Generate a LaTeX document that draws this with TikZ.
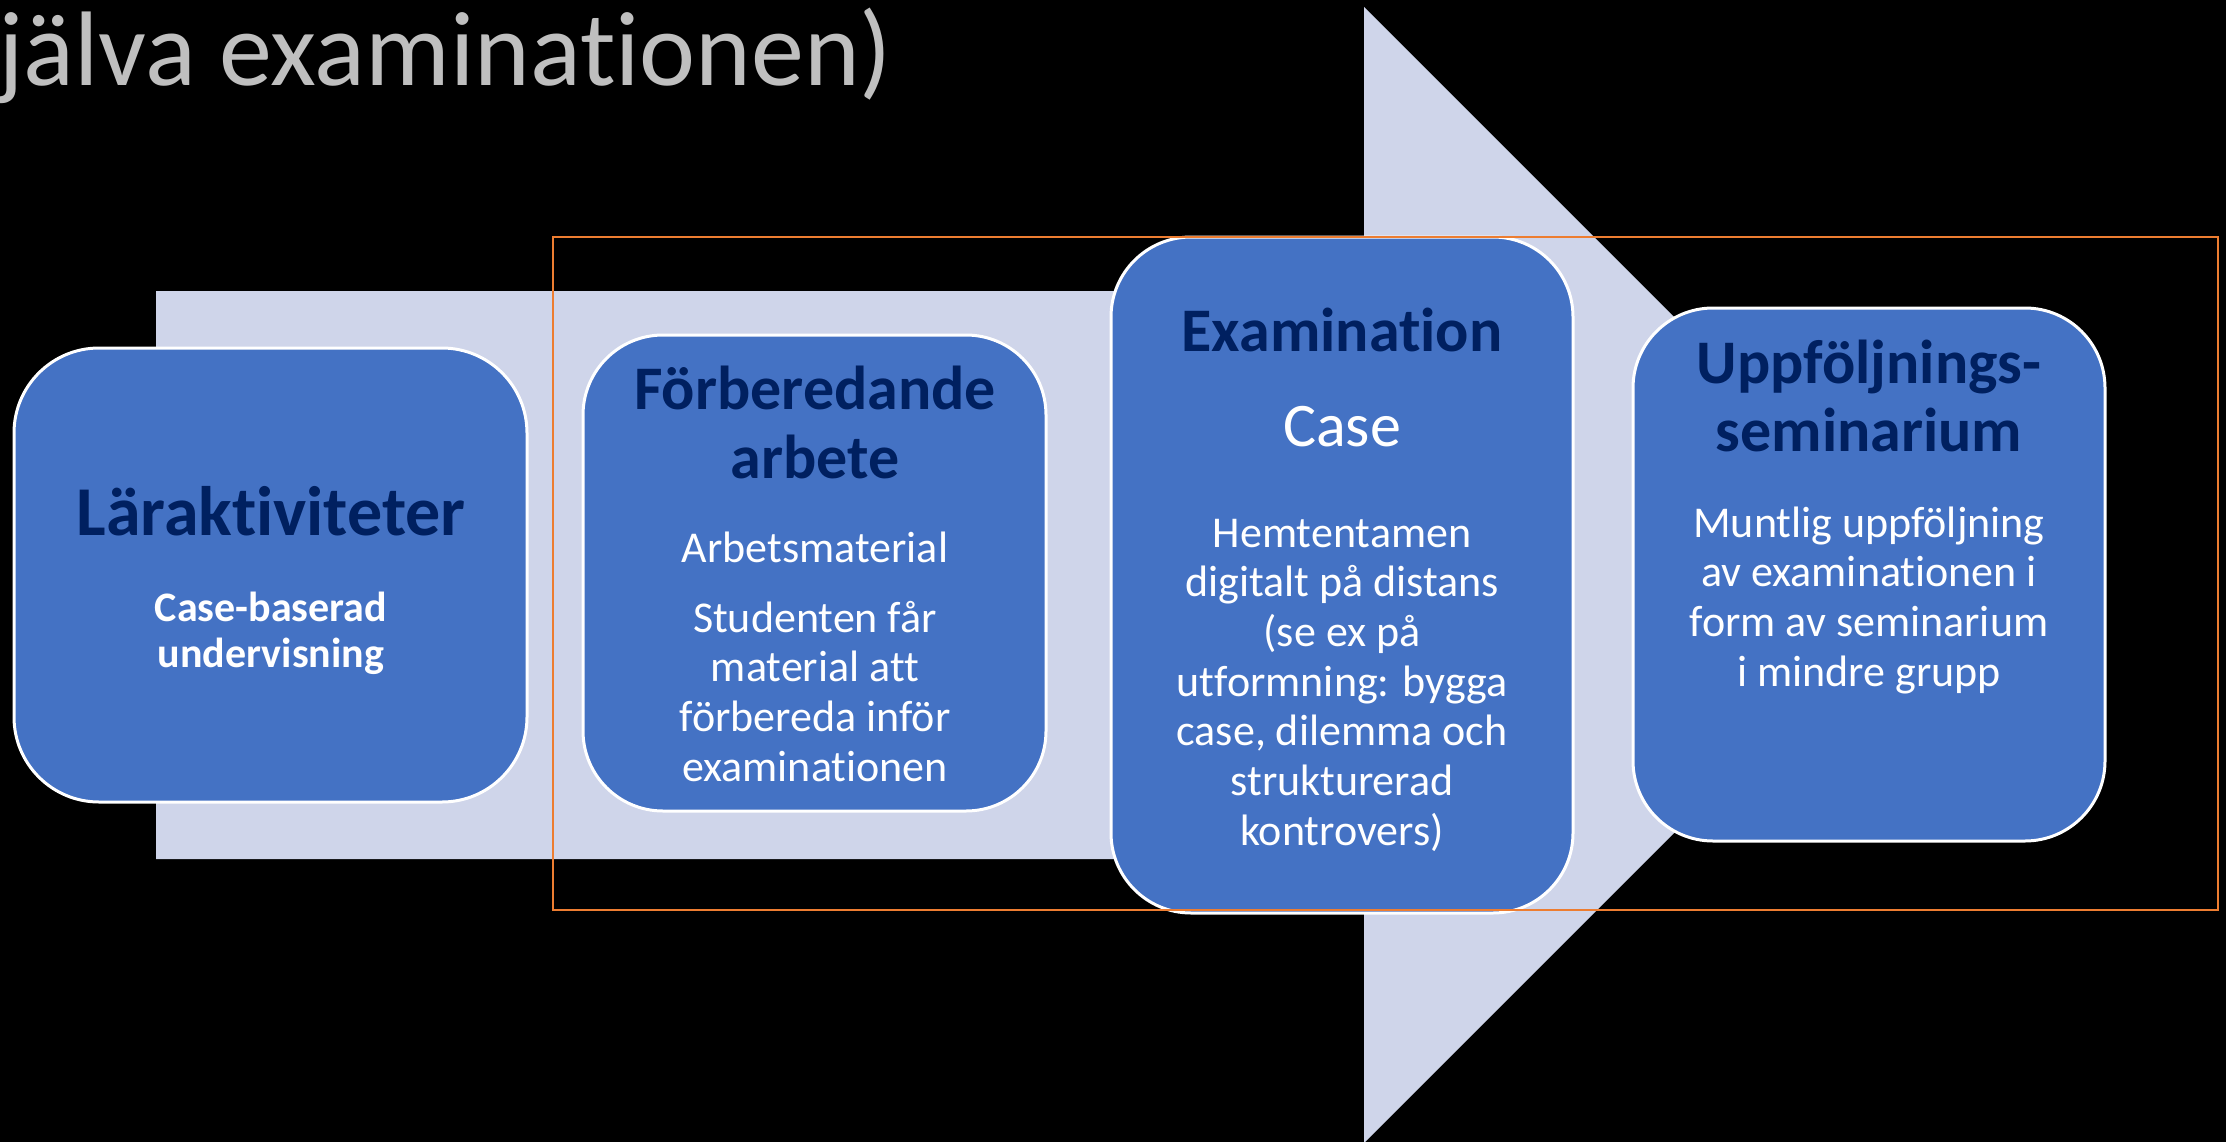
\documentclass[tikz,border=0pt]{standalone}
\usepackage{fontspec}
\setmainfont{Carlito}[Ligatures={CommonOff,RequiredOff,ContextualOff}, Contextuals=AlternateOff]
\definecolor{boxblue}{HTML}{4472C4}
\definecolor{navy}{HTML}{002060}
\definecolor{arrowfill}{HTML}{CFD5EA}
\definecolor{framecol}{HTML}{ED7D31}
\definecolor{titlegrey}{HTML}{BFBFBF}
\begin{document}
\begin{tikzpicture}[x=1pt,y=-1pt,
  pbox/.style={draw=white, line width=3pt, fill=boxblue, rounded corners=80pt, inner sep=0pt},
  head/.style={font=\fontsize{62}{68}\selectfont\bfseries, text=navy, inner sep=0pt, anchor=base},
  body/.style={font=\fontsize{44}{50}\selectfont, text=white, inner sep=0pt, anchor=base},
  titletext/.style={font=\fontsize{106}{120}\selectfont, text=titlegrey, inner sep=0pt, anchor=base west}]
\fill[black] (0,0) rectangle (2226,1142);
\useasboundingbox (0,0) rectangle (2226,1142);
% title
\node[titletext] (ttl) at (-2,86) {jälva examinationen)};
% block arrow
\fill[arrowfill] (156,291) -- (1364,291) -- (1364,7) -- (1932,575) -- (1364,1143) -- (1364,859) -- (156,859) -- cycle;
% boxes
\node[pbox, rounded corners=85pt, minimum width=513pt, minimum height=454pt] (b1) at (270.5,575) {};
\node[pbox, minimum width=463pt, minimum height=476pt] (b2) at (814.5,573) {};
\node[pbox, minimum width=462pt, minimum height=676pt] (b3) at (1342,575) {};
\node[pbox, minimum width=472pt, minimum height=533pt] (b4) at (1869,574.5) {};
% box 1
\node[head, font=\fontsize{70}{76}\selectfont\bfseries] (h1) at (271,535) {Läraktiviteter};
\node[body, font=\fontsize{42}{47}\selectfont\bfseries] (s1a) at (271,621) {Case-baserad};
\node[body, font=\fontsize{42}{47}\selectfont\bfseries] (s1b) at (271,667) {undervisning};
% box 2
\node[head] (h2a) at (815,409) {Förberedande};
\node[head] (h2b) at (815,478) {arbete};
\node[body] (s2) at (815,562) {Arbetsmaterial};
\foreach \t [count=\i from 0] in {{Studenten får}, {material att}, {förbereda inför}, {examinationen}}
  \node[body] (t2\i) at (815,{632+49.7*\i}) {\t};
% box 3
\node[head] (h3) at (1342,351) {Examination};
\node[body, font=\fontsize{62}{68}\selectfont] (s3) at (1342,446) {Case};
\foreach \t [count=\i from 0] in {{Hemtentamen}, {digitalt på distans}, {(se ex på}, {utformning: bygga}, {case, dilemma och}, {strukturerad}, {kontrovers)}}
  \node[body] (t3\i) at (1342,{547+49.7*\i}) {\t};
% box 4
\node[head] (h4a) at (1869,383) {Uppföljnings-};
\node[head] (h4b) at (1869,451) {seminarium};
\foreach \t [count=\i from 0] in {{Muntlig uppföljning}, {av examinationen i}, {form av seminarium}, {i mindre grupp}}
  \node[body] (t4\i) at (1869,{537+49.7*\i}) {\t};
% orange frame
\draw[framecol, line width=2.2pt] (553,237) rectangle (2218,910);
\end{tikzpicture}
\end{document}
